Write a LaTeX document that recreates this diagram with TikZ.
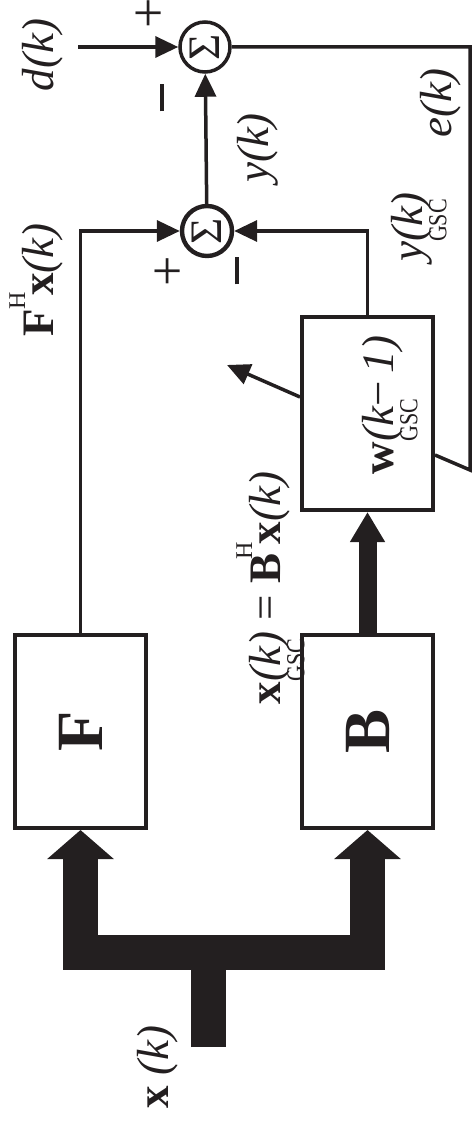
\documentclass[tikz,border=0pt]{standalone}
\usepackage{fontspec}
\setmainfont{Liberation Serif}
\usetikzlibrary{arrows.meta}
\definecolor{ink}{RGB}{35,31,32}
\newcommand{\gscsub}{\rlap{\raisebox{-0.54em}{\fontsize{13}{13}\selectfont\scalebox{0.85}[1]{GSC}}}}
\newcommand{\hsup}{\raisebox{0.62em}{\fontsize{12}{12}\selectfont H}}
\newcommand{\minussign}{\rule[0.3em]{13.5pt}{1.8pt}}

\begin{document}
\begin{tikzpicture}[x=0.5pt, y=-0.5pt, ink,
  every node/.style={font=\fontsize{22.5}{26}\selectfont},
  sum/.style={draw, circle, line width=1.75pt, minimum size=25pt, inner sep=0pt},
  block/.style={draw, line width=2pt, minimum width=65.5pt, minimum height=96.5pt, inner sep=0pt},
  lab/.style={rotate=90, inner sep=0pt},
  sig/.style={line width=1.75pt, -{Triangle[width=10.5pt,length=11.5pt]}},
  bus/.style={line width=17.5pt, -{Triangle[width=32.5pt,length=14.5pt]}},
  busthin/.style={line width=9pt, -{Triangle[width=16.5pt,length=15pt]}}]
  \useasboundingbox (0,0) rectangle (473,1128);

  \node[sum] (s2) at (205,47) {\rotatebox{90}{Σ}};
  \node[sum, line width=2.2pt] (s1) at (207,231) {\rotatebox{90}{Σ}};
  \node[block] (w) at (367.5,413.5) {};
  \node[block] (F) at (80.5,731.5) {\rotatebox{90}{\fontsize{33}{36}\selectfont\textbf{F}}};
  \node[block] (B) at (367.5,731.5) {\rotatebox{90}{\fontsize{33}{36}\selectfont\textbf{B}}};
  \node[lab, anchor=base] (wtxt) at (393,405) {\textbf{w}\gscsub\textit{(k}−\,\textit{1)}};

  \coordinate (din) at (78,47);
  \coordinate (ebend) at (470,470);
  \coordinate (adapt) at (227,365);
  \coordinate (xin) at (208,1047);
  \coordinate (split) at (208,952);

  % signal paths
  \draw[sig] (din) -- (s2);
  \draw[sig] (s1) -- (s2);
  \draw[sig] (F.north) |- (s1);
  \draw[sig] (w.north) |- (s1);
  \draw[line width=1.75pt] (s2) -| (ebend) -- ([yshift=-20.75pt]w.east);
  \draw[sig] ([yshift=8.25pt]w.west) -- (adapt);
  \draw[busthin] (B.north) -- (w.south);
  \draw[bus] (xin) -- (split) -| (F.south);
  \draw[bus] (split) -| (B.south);

  % labels
  \node[lab] (dlab) at (43,55) {\textit{d(k)}};
  \node[lab, font=\fontsize{27}{30}\selectfont] at (151,13) {+};
  \node[lab] at (169,98) {\minussign};
  \node[lab] (ylab) at (258,148) {\textit{y(k)}};
  \node[lab] (elab) at (441,103) {\textit{e(k)}};
  \node[lab, anchor=base] (ygsc) at (422,227) {\textit{y}\gscsub\textit{(k)}};
  \node[lab, font=\fontsize{27}{30}\selectfont] at (170,271) {+};
  \node[lab] at (244,271) {\minussign};
  \node[lab, anchor=base] (flab) at (53,280) {\textbf{F}\hsup\kern-2pt\textbf{x}\textit{(k)}};
  \node[lab, anchor=base] (xgsc) at (280,588) {\textbf{x}\gscsub\textit{(k)} = \textbf{B}\kern-3pt\hsup\kern-1pt\textbf{x}\textit{(k)}};
  \node[lab] (xlab) at (158,1067) {\textbf{x} \textit{(k)}};
\end{tikzpicture}
\end{document}
